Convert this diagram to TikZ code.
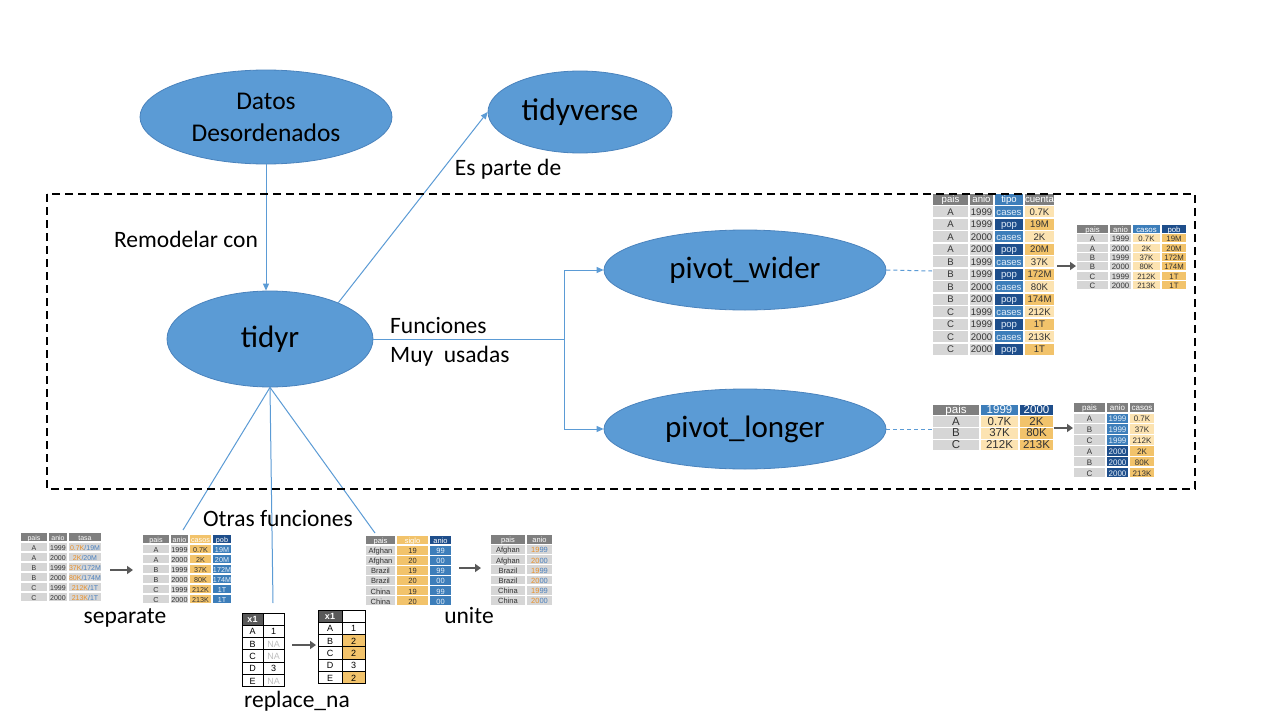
\documentclass[tikz,border=0pt]{standalone}
\usepackage{fontspec}
\setmainfont{Carlito}
\newfontfamily\tabfont{Liberation Sans}
\usetikzlibrary{shapes.geometric,arrows.meta}
\definecolor{ellfill}{HTML}{5B9BD5}
\definecolor{elldraw}{HTML}{4A83BD}
\definecolor{conncol}{HTML}{5B9BD5}
\definecolor{hg}{HTML}{7F7F7F}
\definecolor{cg}{HTML}{D6D6D6}
\definecolor{mb}{HTML}{3D7EBA}
\definecolor{db}{HTML}{1E4E8B}
\definecolor{tn}{HTML}{FCE3B1}
\definecolor{og}{HTML}{F2C36B}
\definecolor{tx}{HTML}{333333}
\definecolor{lt}{HTML}{E4EEF8}
\definecolor{to}{HTML}{E8902A}
\definecolor{tb}{HTML}{4A80BE}
\definecolor{ag}{HTML}{595959}
\definecolor{nag}{HTML}{BFBFBF}
\newcommand\cellc[7]{\fill[fill=#5] ({#1+0.7},{#3+0.7}) rectangle ({#2-0.7},{#4-0.7}); \node[text=#6,inner sep=0pt,text height=0.7em,text depth=0pt] at ({(#1+#2)/2},{(#3+#4)/2}) {#7};}
\tikzset{
  ell/.style={ellipse,fill=ellfill,draw=elldraw,line width=0.8pt,inner sep=0pt,align=center},
  conn/.style={draw=conncol,line width=1pt},
  arr/.style={-{Triangle[length=7pt,width=6pt]}},
  dconn/.style={draw=conncol,line width=1pt,dash pattern=on 4pt off 3pt},
  lab/.style={font=\fontsize{23.5}{28}\selectfont,inner sep=0pt,anchor=base},
  garr/.style={draw=ag,line width=2.6pt,-{Triangle[length=6pt,width=8pt]}},
}
\begin{document}
\begin{tikzpicture}[x=1pt,y=-1pt]
\useasboundingbox (0,0) rectangle (1280,720);
\fill[white] (0,0) rectangle (1280,720);

% ellipses
\node[ell,minimum width=252pt,minimum height=94pt,font=\fontsize{25.5}{32}\selectfont] (datos) at (266,117) {Datos\\Desordenados};
\node[ell,minimum width=184pt,minimum height=82pt,font=\fontsize{31.5}{36}\selectfont] (tverse) at (580,112) {tidyverse};
\node[ell,minimum width=206pt,minimum height=96pt,font=\fontsize{31}{36}\selectfont] (tidyr) at (270,339) {tidyr};
\node[ell,minimum width=282pt,minimum height=80pt,font=\fontsize{31}{36}\selectfont] (pw) at (745,270) {pivot\_wider};
\node[ell,minimum width=282pt,minimum height=80pt,font=\fontsize{31}{36}\selectfont] (pl) at (745,429) {pivot\_longer};

% coordinates
\coordinate (split) at (564,339);
\coordinate (t1w) at (932,271);
\coordinate (t3w) at (932,429);
\coordinate (sepend) at (183,530);
\coordinate (repend) at (273,603);
\coordinate (uniend) at (375,533);

% connectors
\draw[conn,arr] (datos.south) -- (datos.south |- tidyr.north);
\draw[conn,arr] (tidyr.28) -- (tverse.west);
\draw[conn] (tidyr.east) -- (split);
\draw[conn,arr] (split) |- (pw.west);
\draw[conn,arr] (split) |- (pl.west);
\draw[dconn] (pw.east) -- (t1w);
\draw[dconn] (pl.east) -- (t3w);
\draw[conn] (tidyr.south) -- (sepend);
\draw[conn] (tidyr.south) -- (repend);
\draw[conn] (tidyr.south) -- (uniend);

% labels
\node[lab] (remod) at (186,247) {Remodelar con};
\node[lab] (espar) at (508,175) {Es parte de};
\node[lab,anchor=base west] (func1) at (390,333) {Funciones};
\node[lab,anchor=base west] (func2) at (390,362) {Muy\ \ usadas};
\node[lab] (otras) at (278,526) {Otras funciones};
\node[lab] (sep) at (125,623) {separate};
\node[lab] (uni) at (469,623) {unite};
\node[lab] (rep) at (297,707) {replace\_na};

% ---------- table 1: pivot_wider input
\begin{scope}[font=\tabfont\fontsize{9.6}{10.5}\selectfont]
\cellc{932}{969}{193}{205.5}{hg}{white}{pais}
\cellc{969}{994}{193}{205.5}{hg}{white}{anio}
\cellc{994}{1024}{193}{205.5}{mb}{white}{tipo}
\cellc{1024}{1055}{193}{205.5}{hg}{white}{cuenta}
\foreach \va/\vb/\vc/\vd/\fa/\fb [count=\i] in {A/1999/cases/0.7K/mb/tn, A/1999/pop/19M/db/og, A/2000/cases/2K/mb/tn, A/2000/pop/20M/db/og, B/1999/cases/37K/mb/tn, B/1999/pop/172M/db/og, B/2000/cases/80K/mb/tn, B/2000/pop/174M/db/og, C/1999/cases/212K/mb/tn, C/1999/pop/1T/db/og, C/2000/cases/213K/mb/tn, C/2000/pop/1T/db/og}{
\pgfmathsetmacro\ya{193+12.5*\i}\pgfmathsetmacro\yb{\ya+12.5}
\cellc{932}{969}{\ya}{\yb}{cg}{tx}{\va}
\cellc{969}{994}{\ya}{\yb}{cg}{tx}{\vb}
\cellc{994}{1024}{\ya}{\yb}{\fa}{lt}{\vc}
\cellc{1024}{1055}{\ya}{\yb}{\fb}{tx}{\vd}
}
\end{scope}

% ---------- table 2: pivot_wider output
\begin{scope}[font=\tabfont\fontsize{7.8}{8.5}\selectfont]
\cellc{1076}{1109}{224}{233.4}{hg}{white}{pais}
\cellc{1109}{1132}{224}{233.4}{hg}{white}{anio}
\cellc{1132}{1161}{224}{233.4}{mb}{white}{casos}
\cellc{1161}{1187}{224}{233.4}{db}{white}{pob}
\foreach \va/\vb/\vc/\vd [count=\i] in {A/1999/0.7K/19M, A/2000/2K/20M, B/1999/37K/172M, B/2000/80K/174M, C/1999/212K/1T, C/2000/213K/1T}{
\pgfmathsetmacro\ya{224+9.4*\i}\pgfmathsetmacro\yb{\ya+9.4}
\cellc{1076}{1109}{\ya}{\yb}{cg}{tx}{\va}
\cellc{1109}{1132}{\ya}{\yb}{cg}{tx}{\vb}
\cellc{1132}{1161}{\ya}{\yb}{tn}{tx}{\vc}
\cellc{1161}{1187}{\ya}{\yb}{og}{tx}{\vd}
}
\end{scope}
\coordinate (g1s) at (1057,266);
\coordinate (g1e) at (1076,266);
\draw[garr] (g1s) -- (g1e);

% ---------- table 3: pivot_longer input
\begin{scope}[font=\tabfont\fontsize{11.5}{12}\selectfont]
\cellc{932}{980}{404}{415.75}{hg}{white}{pais}
\cellc{980}{1019}{404}{415.75}{mb}{white}{1999}
\cellc{1019}{1054}{404}{415.75}{db}{white}{2000}
\foreach \va/\vb/\vc [count=\i] in {A/0.7K/2K, B/37K/80K, C/212K/213K}{
\pgfmathsetmacro\ya{404+11.75*\i}\pgfmathsetmacro\yb{\ya+11.75}
\cellc{932}{980}{\ya}{\yb}{cg}{tx}{\va}
\cellc{980}{1019}{\ya}{\yb}{tn}{tx}{\vb}
\cellc{1019}{1054}{\ya}{\yb}{og}{tx}{\vc}
}
\end{scope}
\coordinate (g2s) at (1054,428);
\coordinate (g2e) at (1073,428);
\draw[garr] (g2s) -- (g2e);

% ---------- table 4: pivot_longer output
\begin{scope}[font=\tabfont\fontsize{8}{9}\selectfont]
\cellc{1073}{1106}{402}{412.85}{hg}{white}{pais}
\cellc{1106}{1129}{402}{412.85}{hg}{white}{anio}
\cellc{1129}{1155}{402}{412.85}{hg}{white}{casos}
\foreach \va/\vb/\vc/\fa/\fb [count=\i] in {A/1999/0.7K/mb/tn, B/1999/37K/mb/tn, C/1999/212K/mb/tn, A/2000/2K/db/og, B/2000/80K/db/og, C/2000/213K/db/og}{
\pgfmathsetmacro\ya{402+10.85*\i}\pgfmathsetmacro\yb{\ya+10.85}
\cellc{1073}{1106}{\ya}{\yb}{cg}{tx}{\va}
\cellc{1106}{1129}{\ya}{\yb}{\fa}{lt}{\vb}
\cellc{1129}{1155}{\ya}{\yb}{\fb}{tx}{\vc}
}
\end{scope}

% ---------- table 5: separate input
\begin{scope}[font=\tabfont\fontsize{7}{8}\selectfont]
\cellc{20}{48}{532}{542}{hg}{white}{pais}
\cellc{48}{68}{532}{542}{hg}{white}{anio}
\cellc{68}{102}{532}{542}{hg}{white}{tasa}
\foreach \va/\vb/\vc/\vd [count=\i] in {A/1999/0.7K/19M, A/2000/2K/20M, B/1999/37K/172M, B/2000/80K/174M, C/1999/212K/1T, C/2000/213K/1T}{
\pgfmathsetmacro\ya{532+10*\i}\pgfmathsetmacro\yb{\ya+10}
\cellc{20}{48}{\ya}{\yb}{cg}{tx}{\va}
\cellc{48}{68}{\ya}{\yb}{cg}{tx}{\vb}
\cellc{68}{102}{\ya}{\yb}{cg}{tx}{\textcolor{to}{\vc}\textcolor{tb}{/\vd}}
}
\end{scope}
\coordinate (g3s) at (110,570);
\coordinate (g3e) at (133,570);
\draw[garr] (g3s) -- (g3e);

% ---------- table 6: separate output
\begin{scope}[font=\tabfont\fontsize{7.2}{8}\selectfont]
\cellc{142}{170}{534}{544}{hg}{white}{pais}
\cellc{170}{189}{534}{544}{hg}{white}{anio}
\cellc{189}{212}{534}{544}{og}{white}{casos}
\cellc{212}{232}{534}{544}{db}{white}{pob}
\foreach \va/\vb/\vc/\vd [count=\i] in {A/1999/0.7K/19M, A/2000/2K/20M, B/1999/37K/172M, B/2000/80K/174M, C/1999/212K/1T, C/2000/213K/1T}{
\pgfmathsetmacro\ya{534+10*\i}\pgfmathsetmacro\yb{\ya+10}
\cellc{142}{170}{\ya}{\yb}{cg}{tx}{\va}
\cellc{170}{189}{\ya}{\yb}{cg}{tx}{\vb}
\cellc{189}{212}{\ya}{\yb}{og}{tx}{\vc}
\cellc{212}{232}{\ya}{\yb}{mb}{lt}{\vd}
}
\end{scope}

% ---------- table 7: unite input
\begin{scope}[font=\tabfont\fontsize{7.5}{8}\selectfont]
\cellc{365}{396}{535}{545.1}{hg}{white}{pais}
\cellc{396}{429}{535}{545.1}{og}{white}{siglo}
\cellc{429}{452}{535}{545.1}{db}{white}{anio}
\foreach \va/\vb/\vc [count=\i] in {Afghan/19/99, Afghan/20/00, Brazil/19/99, Brazil/20/00, China/19/99, China/20/00}{
\pgfmathsetmacro\ya{535+10.1*\i}\pgfmathsetmacro\yb{\ya+10.1}
\cellc{365}{396}{\ya}{\yb}{cg}{tx}{\va}
\cellc{396}{429}{\ya}{\yb}{og}{tx}{\vb}
\cellc{429}{452}{\ya}{\yb}{mb}{lt}{\vc}
}
\end{scope}
\coordinate (g4s) at (459,568);
\coordinate (g4e) at (481,568);
\draw[garr] (g4s) -- (g4e);

% ---------- table 8: unite output
\begin{scope}[font=\tabfont\fontsize{7.5}{8}\selectfont]
\cellc{490}{526}{534}{544.2}{hg}{white}{pais}
\cellc{526}{553}{534}{544.2}{hg}{white}{anio}
\foreach \va/\vb/\vc [count=\i] in {Afghan/19/99, Afghan/20/00, Brazil/19/99, Brazil/20/00, China/19/99, China/20/00}{
\pgfmathsetmacro\ya{534+10.2*\i}\pgfmathsetmacro\yb{\ya+10.2}
\cellc{490}{526}{\ya}{\yb}{cg}{tx}{\va}
\cellc{526}{553}{\ya}{\yb}{cg}{tx}{\textcolor{to}{\vb}\textcolor{tb}{\vc}}
}
\end{scope}

% ---------- table 9: replace_na input
\begin{scope}[font=\tabfont\fontsize{9}{10}\selectfont]
\fill[ag] (242,613) rectangle (263,625.3);
\node[text=white,inner sep=0pt,font=\tabfont\bfseries\fontsize{9}{10}\selectfont] (x1a) at (252.5,619.2) {x1};
\foreach \va/\vb/\tc [count=\i] in {A/1/black, B/NA/nag, C/NA/nag, D/3/black, E/NA/nag}{
\pgfmathsetmacro\ya{613+12.3*\i}\pgfmathsetmacro\yb{\ya+12.3}
\node[inner sep=0pt,text height=0.7em,text depth=0pt] at (252.5,{(\ya+\yb)/2}) {\va};
\node[inner sep=0pt,text height=0.7em,text depth=0pt,text=\tc] at (273.5,{(\ya+\yb)/2}) {\vb};
}
\draw[black,line width=1pt] (242,613) rectangle (284,686.8);
\draw[black,line width=1pt] (263,613) -- (263,686.8);
\foreach \i in {1,...,5}{\draw[black,line width=1pt] (242,{613+12.3*\i}) -- (284,{613+12.3*\i});}
\end{scope}
\coordinate (g5s) at (292,645);
\coordinate (g5e) at (316,645);
\draw[garr] (g5s) -- (g5e);

% ---------- table 10: replace_na output
\begin{scope}[font=\tabfont\fontsize{9}{10}\selectfont]
\fill[ag] (318,610) rectangle (342,622.3);
\node[text=white,inner sep=0pt,font=\tabfont\bfseries\fontsize{9}{10}\selectfont] (x1b) at (330,616.2) {x1};
\foreach \va/\vb/\fc [count=\i] in {A/1/white, B/2/og, C/2/og, D/3/white, E/2/og}{
\pgfmathsetmacro\ya{610+12.3*\i}\pgfmathsetmacro\yb{\ya+12.3}
\fill[fill=\fc] (342,\ya) rectangle (365,\yb);
\node[inner sep=0pt,text height=0.7em,text depth=0pt] at (330,{(\ya+\yb)/2}) {\va};
\node[inner sep=0pt,text height=0.7em,text depth=0pt] at (353.5,{(\ya+\yb)/2}) {\vb};
}
\draw[black,line width=1pt] (318,610) rectangle (365,683.8);
\draw[black,line width=1pt] (342,610) -- (342,683.8);
\foreach \i in {1,...,5}{\draw[black,line width=1pt] (318,{610+12.3*\i}) -- (365,{610+12.3*\i});}
\end{scope}

% dashed frame
\draw[black,line width=2pt,dash pattern=on 8pt off 5pt] (47,194) rectangle (1195,489);
\end{tikzpicture}
\end{document}
